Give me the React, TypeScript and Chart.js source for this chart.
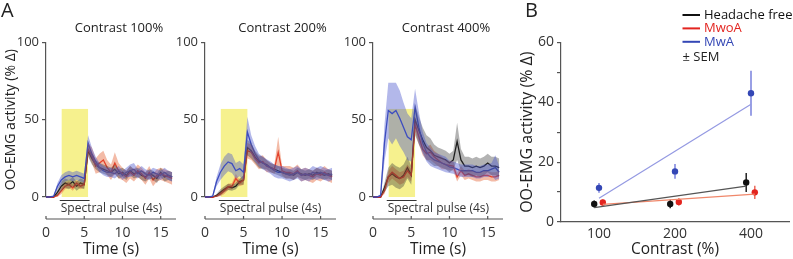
import React, { useEffect, useRef } from 'react';
import { Chart, registerables } from 'chart.js';

Chart.register(...registerables);
Chart.defaults.font.family = "'Open Sans', 'Noto Sans', sans-serif";
Chart.defaults.color = '#222';

// ---------- Panel A: time courses ----------
const TIME = [0, 0.5, 1, 1.5, 2, 2.5, 3, 3.5, 4, 4.5, 5, 5.5, 6, 6.5, 7, 7.5, 8, 8.5, 9, 9.5, 10, 10.5, 11, 11.5, 12, 12.5, 13, 13.5, 14, 14.5, 15, 15.5, 16, 16.5];

const HF_100 = [0, 0, 0, 3, 7, 9, 8, 10, 7, 9, 8, 30, 25, 21, 19, 18, 17, 16, 18, 15, 16, 14, 17, 15, 16, 14, 13, 15, 14, 12, 16, 13, 14, 13];
const HF_100_SEM = [0, 0, 0, 2, 3, 3, 3, 3, 3, 3, 3, 4, 4, 3, 3, 3, 3, 3, 3, 3, 3, 3, 3, 3, 3, 3, 3, 3, 3, 3, 3, 3, 3, 3];
const MWOA_100 = [0, 0, 0, 1, 4, 7, 8, 6, 9, 7, 8, 31, 27, 20, 22, 24, 19, 16, 22, 17, 15, 13, 16, 14, 17, 15, 12, 16, 11, 14, 15, 14, 13, 12];
const MWOA_100_SEM = [0, 0, 0, 1, 2, 2, 2, 2, 2, 2, 2, 4, 5, 5, 6, 6, 5, 5, 7, 5, 4, 4, 4, 4, 4, 4, 4, 4, 4, 4, 4, 4, 4, 4];
const MWA_100 = [0, 0, 0.5, 7, 11, 13, 14, 13, 14, 13, 12, 35, 28, 23, 19, 17, 16, 16, 15, 17, 14, 16, 17, 18, 15, 17, 15, 14, 16, 15, 14, 16, 14, 13];
const MWA_100_SEM = [0, 0, 0.5, 2, 3, 3, 3, 3, 3, 3, 3, 5, 4, 3, 3, 3, 3, 3, 3, 3, 3, 3, 4, 4, 3, 3, 3, 3, 3, 3, 3, 3, 3, 3];

const HF_200 = [0, 0, 0, 1, 3, 5, 6.5, 6, 7, 10, 11, 32, 30, 26, 23, 22, 21, 19, 18, 17, 16, 15, 15, 14, 16, 15, 14, 15, 14, 16, 15, 14, 15, 14];
const HF_200_SEM = [0, 0, 0, 1, 2, 2, 2, 2, 2, 2, 3, 5, 5, 4, 4, 4, 3, 3, 3, 3, 3, 3, 3, 3, 3, 3, 3, 3, 3, 3, 3, 3, 3, 3];
const MWOA_200 = [0, 0, 0, 0.5, 2, 4, 6.5, 7, 12, 9, 11, 30, 29, 25, 22, 23, 20, 19, 18, 29, 17, 16, 16, 15, 17, 14, 15, 14, 13, 15, 14, 16, 14, 13];
const MWOA_200_SEM = [0, 0, 0, 0.5, 1.5, 2, 2, 2, 3, 2, 3, 5, 5, 4, 4, 4, 4, 3, 3, 10, 3, 4, 4, 4, 4, 4, 4, 4, 4, 4, 4, 4, 4, 4];
const MWA_200 = [0, 0, 0.5, 10, 16, 20, 22.7, 21.6, 17, 18.4, 16, 42, 34, 28, 24, 22, 20.5, 19, 17, 16, 16, 15, 14, 15, 16, 14, 15, 14, 16, 15, 16, 15, 14, 15];
const MWA_200_SEM = [0, 0, 0.5, 3, 5, 6, 6, 6, 5, 5, 5, 10, 6, 5, 4, 4, 4, 4, 4, 4, 4, 4, 4, 4, 4, 4, 4, 4, 4, 4, 4, 4, 4, 4];

const HF_400 = [0, 0, 0, 6, 13, 15, 13, 12, 14, 19, 14, 50, 43, 37, 32, 30, 27, 26, 25, 24, 22, 24, 36, 24, 20, 20, 19, 20, 19, 20, 22, 20, 20, 19];
const HF_400_SEM = [0, 0, 0, 3, 6, 7, 7, 7, 7, 7, 6, 10, 9, 8, 8, 8, 7, 6, 6, 6, 6, 6, 12, 7, 6, 6, 6, 6, 6, 6, 6, 6, 6, 6];
const MWOA_400 = [0, 0, 0, 4, 13, 16, 14, 12, 13, 17, 14, 47, 39, 31, 28, 29, 26, 24, 22, 21, 20.5, 20, 13, 17, 14, 15, 14, 13, 13, 14, 14, 13, 13, 14];
const MWOA_400_SEM = [0, 0, 0, 2, 4, 4, 4, 4, 4, 4, 4, 5, 5, 4, 4, 5, 4, 4, 4, 3, 3, 3, 3, 3, 3, 3, 3, 3, 3, 3, 3, 3, 3, 3];
const MWA_400 = [0, 0, 1, 35, 56, 54, 56, 51, 45, 39, 37, 58, 45, 35, 29, 26, 24, 23, 22, 21, 19.5, 19, 18, 17, 17, 17, 17, 16, 16, 17, 17, 18, 19, 16];
const MWA_400_SEM = [0, 0, 1, 12, 18, 20, 18, 18, 16, 15, 14, 12, 10, 7, 6, 6, 5, 5, 5, 5, 4, 4, 4, 4, 4, 4, 4, 4, 4, 4, 4, 4, 8, 4];

const PULSE_START = 2.05;
const PULSE_END = 5.5;
const PULSE_TOP = 57;
const BAR_START = 1.8;
const BAR_END = 5.7;
const TIME_TICKS = [0, 5, 10, 15];
const A_Y_TICKS = [0, 50, 100];

// ---------- Panel B: summary ----------
const CONTRAST_LABELS = ['100', '200', '400'];
const HF_MEAN = [6.0, 6.0, 13.2];
const HF_SEM = [1.2, 1.4, 3.2];
const MWOA_MEAN = [6.5, 6.7, 9.9];
const MWOA_SEM = [1.0, 1.2, 2.2];
const MWA_MEAN = [11.4, 16.9, 43.0];
const MWA_SEM = [1.6, 2.5, 7.5];
const HF_FIT = [4.8, 12.0];
const MWOA_FIT = [5.9, 9.3];
const MWA_FIT = [7.9, 39.3];

// ---------- styles ----------
const AXIS = '#555';
const C_HF = '#111111';
const C_MWOA = '#e3241f';
const C_MWA = '#3447b5';
const BAND_HF = 'rgba(55,55,55,0.38)';
const BAND_MWOA = 'rgba(228,105,60,0.45)';
const BAND_MWA = 'rgba(75,85,205,0.42)';
const YELLOW = '#f6f18e';
const FONT = "'Open Sans', 'Noto Sans', sans-serif";
const H = 259;

function band(mean: number[], sem: number[], color: string) {
  return [
    {
      type: 'line',
      data: TIME.map((t, i) => ({ x: t, y: mean[i] + sem[i] })),
      borderWidth: 0,
      borderColor: 'transparent',
      pointRadius: 0,
      fill: '+1',
      backgroundColor: color,
    },
    {
      type: 'line',
      data: TIME.map((t, i) => ({ x: t, y: Math.max(0, mean[i] - sem[i]) })),
      borderWidth: 0,
      borderColor: 'transparent',
      pointRadius: 0,
      fill: false,
    },
  ];
}

function line(mean: number[], color: string) {
  return {
    type: 'line',
    data: TIME.map((t, i) => ({ x: t, y: mean[i] })),
    borderColor: color,
    borderWidth: 1.3,
    pointRadius: 0,
    fill: false,
    clip: 3,
  };
}

type APanel = {
  title: string;
  titleShift: number;
  yWidth: number;
  showYTitle: boolean;
  letter?: string;
  hf: number[]; hfSem: number[];
  mwoa: number[]; mwoaSem: number[];
  mwa: number[]; mwaSem: number[];
};

function buildA(canvas: HTMLCanvasElement, p: APanel) {
  const pulsePlugin = {
    id: 'pulse',
    beforeDatasetsDraw(chart: any) {
      const { ctx, scales: { x, y } } = chart;
      const x0 = x.getPixelForValue(PULSE_START);
      const x1 = x.getPixelForValue(PULSE_END);
      const y0 = y.getPixelForValue(PULSE_TOP);
      const y1 = y.getPixelForValue(0);
      ctx.save();
      ctx.fillStyle = YELLOW;
      ctx.fillRect(x0, y0, x1 - x0, y1 - y0);
      ctx.restore();
    },
  };
  const decoPlugin = {
    id: 'deco',
    afterDraw(chart: any) {
      const { ctx, chartArea, scales: { x } } = chart;
      ctx.save();
      // detached time axis
      const axisY = chartArea.bottom + 22;
      ctx.strokeStyle = AXIS;
      ctx.lineWidth = 1.2;
      ctx.beginPath();
      ctx.moveTo(x.left, axisY);
      ctx.lineTo(x.right, axisY);
      x.ticks.forEach((t: any) => {
        const px = x.getPixelForValue(t.value);
        ctx.moveTo(px, axisY);
        ctx.lineTo(px, axisY - 3);
      });
      ctx.stroke();
      // spectral pulse bar
      const bx0 = x.getPixelForValue(BAR_START);
      const bx1 = x.getPixelForValue(BAR_END);
      const barY = chartArea.bottom + 3.5;
      ctx.strokeStyle = '#333';
      ctx.lineWidth = 1;
      ctx.beginPath();
      ctx.moveTo(bx0, barY);
      ctx.lineTo(bx1, barY);
      ctx.stroke();
      ctx.fillStyle = '#333';
      ctx.font = `12px ${FONT}`;
      ctx.textAlign = 'left';
      ctx.textBaseline = 'middle';
      ctx.fillText('Spectral pulse (4s)', bx0 + 1, chartArea.bottom + 11.5);
      // panel title
      ctx.fillStyle = '#222';
      ctx.font = `13px ${FONT}`;
      ctx.textAlign = 'center';
      ctx.fillText(p.title, (chartArea.left + chartArea.right) / 2 + p.titleShift, 28);
      if (p.letter) {
        ctx.font = `20px ${FONT}`;
        ctx.textAlign = 'left';
        ctx.fillText(p.letter, 1, 11);
      }
      ctx.restore();
    },
  };

  return new Chart(canvas, {
    type: 'line',
    data: {
      datasets: [
        ...band(p.mwa, p.mwaSem, BAND_MWA),
        ...band(p.hf, p.hfSem, BAND_HF),
        ...band(p.mwoa, p.mwoaSem, BAND_MWOA),
        line(p.mwa, C_MWA),
        line(p.mwoa, C_MWOA),
        line(p.hf, C_HF),
      ] as any,
    },
    options: {
      responsive: false,
      animation: false,
      events: [],
      layout: { padding: { top: 42.5, right: 4, bottom: 0, left: 0 } },
      plugins: { legend: { display: false }, tooltip: { enabled: false } },
      scales: {
        x: {
          type: 'linear',
          min: 0,
          max: 17,
          afterBuildTicks: (s: any) => {
            s.ticks = TIME_TICKS.map((v) => ({ value: v }));
          },
          ticks: { padding: 28, font: { size: 14 }, color: '#333', maxRotation: 0 },
          grid: { display: false, drawTicks: false },
          border: { display: false },
          title: { display: true, text: 'Time (s)', font: { size: 15.5 }, padding: { top: 0, bottom: 0 }, color: '#222' },
          afterFit: (s: any) => {
            s.height = 62;
            s.paddingLeft = 0;
            s.paddingRight = 0;
          },
        },
        y: {
          type: 'linear',
          min: 0,
          max: 100,
          afterBuildTicks: (s: any) => {
            s.ticks = A_Y_TICKS.map((v) => ({ value: v }));
          },
          ticks: { padding: 3, font: { size: 13 }, color: '#333' },
          grid: { drawOnChartArea: false, tickLength: 4, color: AXIS, lineWidth: 1.2 },
          border: { color: AXIS, width: 1.2 },
          title: {
            display: p.showYTitle,
            text: 'OO-EMG activity (% Δ)',
            font: { size: 14 },
            padding: { top: 3, bottom: 0 },
            color: '#222',
          },
          afterFit: (s: any) => {
            s.width = p.yWidth;
          },
        },
      },
    } as any,
    plugins: [pulsePlugin, decoPlugin],
  });
}

// ---------- Panel B ----------
const DODGE_HF = -0.063;
const DODGE_MWOA = 0.05;
const DODGE_MWA = 0;

function buildB(canvas: HTMLCanvasElement) {
  const groups = [
    { mean: HF_MEAN, sem: HF_SEM, fit: HF_FIT, dodge: DODGE_HF, color: C_HF, err: '#222', fitColor: '#555' },
    { mean: MWOA_MEAN, sem: MWOA_SEM, fit: MWOA_FIT, dodge: DODGE_MWOA, color: C_MWOA, err: '#ec6a5a', fitColor: '#f0876a' },
    { mean: MWA_MEAN, sem: MWA_SEM, fit: MWA_FIT, dodge: DODGE_MWA, color: C_MWA, err: '#7880dc', fitColor: '#9499e2' },
  ];
  const fitSets = groups.map((g) => ({
    type: 'line',
    data: [
      { x: 0 + g.dodge, y: g.fit[0] },
      { x: 2 + g.dodge, y: g.fit[1] },
    ],
    borderColor: g.fitColor,
    borderWidth: 1.2,
    pointRadius: 0,
    fill: false,
  }));
  const pointSets = groups.map((g) => ({
    type: 'scatter',
    data: g.mean.map((v, i) => ({ x: i + g.dodge, y: v })),
    pointRadius: 3.2,
    pointBackgroundColor: g.color,
    pointBorderColor: g.color,
    pointBorderWidth: 0,
  }));
  const errPlugin = {
    id: 'errbars',
    beforeDatasetsDraw(chart: any) {
      const { ctx, scales: { x, y } } = chart;
      ctx.save();
      ctx.lineWidth = 1.5;
      groups.forEach((g) => {
        ctx.strokeStyle = g.err;
        g.mean.forEach((v, i) => {
          const px = x.getPixelForValue(i + g.dodge);
          ctx.beginPath();
          ctx.moveTo(px, y.getPixelForValue(v - g.sem[i]));
          ctx.lineTo(px, y.getPixelForValue(v + g.sem[i]));
          ctx.stroke();
        });
      });
      ctx.restore();
    },
    afterDraw(chart: any) {
      const { ctx } = chart;
      ctx.save();
      ctx.font = `20px ${FONT}`;
      ctx.fillStyle = '#222';
      ctx.textBaseline = 'middle';
      ctx.textAlign = 'left';
      ctx.fillText('B', 25, 11);
      const items = [
        { label: 'Headache free', color: C_HF },
        { label: 'MwoA', color: C_MWOA },
        { label: 'MwA', color: C_MWA },
      ];
      ctx.font = `13px ${FONT}`;
      items.forEach((it, i) => {
        const yy = 15 + i * 13.4;
        ctx.strokeStyle = it.color;
        ctx.lineWidth = 2;
        ctx.beginPath();
        ctx.moveTo(182.5, yy);
        ctx.lineTo(200, yy);
        ctx.stroke();
        ctx.fillStyle = it.color;
        ctx.fillText(it.label, 204, yy);
      });
      ctx.fillStyle = '#222';
      ctx.fillText('± SEM', 182.5, 57);
      ctx.restore();
    },
  };
  return new Chart(canvas, {
    type: 'scatter',
    data: { datasets: [...fitSets, ...pointSets] as any },
    options: {
      responsive: false,
      animation: false,
      events: [],
      layout: { padding: { top: 42.3, right: 2, bottom: 0, left: 0 } },
      plugins: { legend: { display: false }, tooltip: { enabled: false } },
      scales: {
        x: {
          type: 'linear',
          min: -0.5,
          max: 2.5,
          afterBuildTicks: (s: any) => {
            s.ticks = CONTRAST_LABELS.map((_, i) => ({ value: i }));
          },
          ticks: {
            padding: 4,
            font: { size: 14 },
            color: '#333',
            maxRotation: 0,
            callback: (v: any) => CONTRAST_LABELS[Math.round(v)] ?? '',
          },
          grid: { display: false, drawTicks: false },
          border: { color: AXIS, width: 1.2 },
          title: { display: true, text: 'Contrast (%)', font: { size: 15.5 }, padding: { top: 0, bottom: 0 }, color: '#222' },
          afterFit: (s: any) => {
            s.height = 37;
            s.paddingLeft = 0;
            s.paddingRight = 0;
          },
        },
        y: {
          type: 'linear',
          min: 0,
          max: 60,
          ticks: {
            stepSize: 10,
            padding: 3,
            font: { size: 14 },
            color: '#333',
            callback: (v: any) => (v % 20 === 0 ? String(v) : ''),
          },
          grid: { drawOnChartArea: false, tickLength: 4, color: AXIS, lineWidth: 1.2 },
          border: { color: AXIS, width: 1.2 },
          title: {
            display: true,
            text: 'OO-EMG activity (% Δ)',
            font: { size: 16 },
            padding: { top: 18, bottom: 0 },
            color: '#222',
          },
          afterFit: (s: any) => {
            s.width = 61;
          },
        },
      },
    } as any,
    plugins: [errPlugin],
  });
}

function ChartBox({ left, width, build }: { left: number; width: number; build: (c: HTMLCanvasElement) => Chart }) {
  const ref = useRef<HTMLCanvasElement>(null);
  useEffect(() => {
    const chart = build(ref.current as HTMLCanvasElement);
    return () => chart.destroy();
  }, []);
  return (
    <canvas
      ref={ref}
      width={width}
      height={H}
      style={{ position: 'absolute', left, top: 0, width, height: H }}
    />
  );
}

export default function App() {
  return (
    <div style={{ position: 'fixed', left: 0, top: 0, width: 793, height: H, background: '#fff', overflow: 'hidden' }}>
      <ChartBox
        left={0}
        width={180}
        build={(c) =>
          buildA(c, {
            title: 'Contrast 100%', titleShift: 8, yWidth: 46, showYTitle: true, letter: 'A',
            hf: HF_100, hfSem: HF_100_SEM, mwoa: MWOA_100, mwoaSem: MWOA_100_SEM, mwa: MWA_100, mwaSem: MWA_100_SEM,
          })
        }
      />
      <ChartBox
        left={165}
        width={175}
        build={(c) =>
          buildA(c, {
            title: 'Contrast 200%', titleShift: 12, yWidth: 40, showYTitle: false,
            hf: HF_200, hfSem: HF_200_SEM, mwoa: MWOA_200, mwoaSem: MWOA_200_SEM, mwa: MWA_200, mwaSem: MWA_200_SEM,
          })
        }
      />
      <ChartBox
        left={333}
        width={174}
        build={(c) =>
          buildA(c, {
            title: 'Contrast 400%', titleShift: 8, yWidth: 40, showYTitle: false,
            hf: HF_400, hfSem: HF_400_SEM, mwoa: MWOA_400, mwoaSem: MWOA_400_SEM, mwa: MWA_400, mwaSem: MWA_400_SEM,
          })
        }
      />
      <ChartBox left={500} width={293} build={buildB} />
    </div>
  );
}
